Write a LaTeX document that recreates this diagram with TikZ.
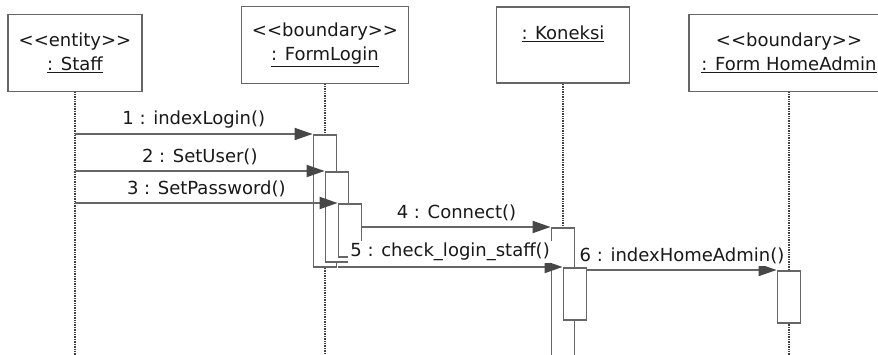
\documentclass[tikz,border=0pt]{standalone}
\usepackage{fontspec}
\setmainfont{DejaVu Sans}
\usetikzlibrary{positioning, arrows.meta}

% 构造型 <<...>>，用 \kern 阻止 << 变成书名号
\newcommand\stereo[1]{<\kern0pt<#1>\kern0pt>}

\begin{document}
\begin{tikzpicture}[x=1pt, y=-1pt,
		font=\fontsize{18}{24}\selectfont, text=black!90,
		objbox/.style={draw=black!60, line width=1.8pt, fill=white, align=center, minimum height=77pt, inner sep=2pt},
		actbox/.style={draw=black!60, line width=1.8pt, fill=white, minimum width=23pt, inner sep=0pt, anchor=north},
		lifeline/.style={draw=black!75, line width=1.6pt, dash pattern=on 1pt off 0.7pt},
		msg/.style={draw=black!60, line width=1.8pt, -{Triangle[length=18pt, width=12pt, color=black!72]}},
		msglabel/.style={fill=white, inner sep=2pt}
	]
		% 画布大小：与原图一致，超出部分裁掉
		\path[use as bounding box] (0,0) rectangle (878,355);
		\clip (0,0) rectangle (878,355);
		
		% ---------------------- 对象框（上方一排）----------------------
		\node[objbox, minimum width=134pt] (staff) at (75,53) {\stereo{entity}\\\underline{: Staff}};
		\node[objbox, minimum width=167pt] (login) at (325,45) {\stereo{boundary}\\\underline{: FormLogin}};
		\node[objbox, minimum width=133pt, minimum height=76pt] (kon) at (563,45) {\underline{: Koneksi}\\~};
		\node[objbox, minimum width=200pt] (home) at (789,53) {\stereo{boundary}\\\underline{: Form HomeAdmin}};
		
		% ---------------------- 生命线（虚线一直到底）----------------------
		\foreach \obj in {staff, login, kon, home} {
			\draw[lifeline] (\obj.south) -- (\obj.south |- 0,360);
		}
		
		% ---------------------- 激活框 ----------------------
		\node[actbox, minimum height=132pt] (act1) at (login |- 0,134) {};
		\node[actbox, minimum height=90pt] (act2) at ([xshift=12pt]login |- 0,171) {};
		\node[actbox, minimum height=53pt] (act3) at ([xshift=25pt]login |- 0,203) {};
		\node[actbox, minimum height=150pt] (act4) at (kon |- 0,227) {};
		\node[actbox, minimum height=52pt] (act5) at ([xshift=12pt]kon |- 0,267) {};
		\node[actbox, minimum height=52pt] (act6) at (home |- 0,270) {};
		
		% ---------------------- 消息 ----------------------
		\draw[msg] (staff |- act1.north) -- (act1.north west)
			node[msglabel, midway, above=3pt] {1 : indexLogin()};
		\draw[msg] (staff |- act2.north) -- (act2.north west)
			node[msglabel, midway, above=3pt] {2 : SetUser()};
		\draw[msg] (staff |- act3.north) -- (act3.north west)
			node[msglabel, midway, above=3pt] {3 : SetPassword()};
		\draw[msg] (act3.east |- act4.north) -- (act4.north west)
			node[msglabel, midway, above=3pt] {4 : Connect()};
		\draw[msg] (act3.west |- act5.north) -- (act5.north west)
			node[msglabel, midway, above=3pt] {5 : check\_login\_staff()};
		\draw[msg] (act5.east |- act6.north) -- (act6.north west)
			node[msglabel, midway, above=3pt] {6 : indexHomeAdmin()};
	\end{tikzpicture}
\end{document}
